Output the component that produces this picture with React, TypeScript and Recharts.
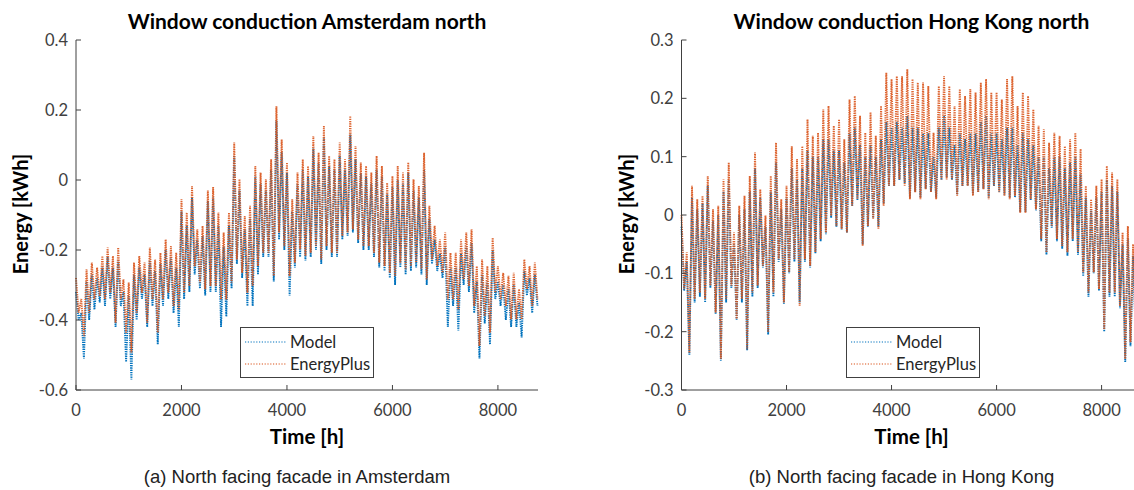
import { LineChart, Line, XAxis, YAxis } from 'recharts';

// hourly results sampled every STEP hours: upper and lower envelope of the daily swing
const STEP = 100;

const amsEplusHi = [
  -0.28, -0.34, -0.255, -0.236, -0.25, -0.217, -0.193, -0.217, -0.193, -0.284,
  -0.293, -0.236, -0.217, -0.236, -0.193, -0.227, -0.208, -0.17, -0.189, -0.208,
  -0.055, -0.093, -0.017, -0.141, -0.131, -0.03, -0.02, -0.093, -0.15, -0.093,
  0.107, 0.002, -0.103, -0.074, 0.04, 0.021, 0.002, 0.059, 0.211, 0.116,
  0.05, -0.055, 0.021, 0.059, 0.04, 0.126, 0.078, 0.154, 0.069, 0.059,
  0.107, 0.059, 0.183, 0.097, 0.05, 0.04, 0.021, 0.069, 0.04, -0.008,
  0.011, 0.04, 0.021, 0.05, 0.002, -0.017, 0.078, -0.074, -0.131, -0.17,
  -0.15, -0.208, -0.208, -0.17, -0.15, -0.141, -0.246, -0.227, -0.246, -0.165,
  -0.246, -0.265, -0.274, -0.265, -0.312, -0.227, -0.246, -0.236,
];
const amsEplusLo = [
  -0.379, -0.446, -0.379, -0.341, -0.331, -0.341, -0.322, -0.408, -0.341, -0.436,
  -0.493, -0.379, -0.322, -0.408, -0.341, -0.436, -0.341, -0.322, -0.36, -0.37,
  -0.322, -0.303, -0.246, -0.293, -0.312, -0.303, -0.303, -0.341, -0.341, -0.293,
  -0.227, -0.265, -0.322, -0.303, -0.246, -0.208, -0.208, -0.274, -0.15, -0.189,
  -0.274, -0.236, -0.198, -0.217, -0.208, -0.189, -0.227, -0.189, -0.208, -0.208,
  -0.16, -0.15, -0.141, -0.17, -0.189, -0.189, -0.208, -0.236, -0.246, -0.265,
  -0.274, -0.236, -0.255, -0.246, -0.236, -0.255, -0.284, -0.227, -0.246, -0.265,
  -0.341, -0.341, -0.37, -0.284, -0.303, -0.36, -0.474, -0.389, -0.436, -0.322,
  -0.341, -0.36, -0.398, -0.398, -0.398, -0.312, -0.36, -0.341,
];
const amsModelHi = [
  -0.32, -0.38, -0.29, -0.27, -0.28, -0.25, -0.22, -0.25, -0.23, -0.32,
  -0.33, -0.27, -0.25, -0.27, -0.23, -0.26, -0.24, -0.2, -0.22, -0.25,
  -0.09, -0.13, -0.05, -0.17, -0.16, -0.06, -0.05, -0.13, -0.19, -0.13,
  0.07, -0.03, -0.14, -0.11, 0.01, -0.01, -0.03, 0.03, 0.17, 0.08,
  0.02, -0.09, -0.01, 0.03, 0.01, 0.09, 0.05, 0.12, 0.04, 0.03,
  0.07, 0.03, 0.13, 0.06, 0.02, 0.01, -0.01, 0.03, 0.01, -0.04,
  -0.02, 0.0, -0.01, 0.02, -0.03, -0.05, 0.03, -0.11, -0.17, -0.21,
  -0.19, -0.25, -0.25, -0.21, -0.19, -0.18, -0.29, -0.27, -0.29, -0.2,
  -0.29, -0.3, -0.31, -0.3, -0.35, -0.26, -0.28, -0.27,
];
const amsModelLo = [
  -0.4, -0.51, -0.4, -0.37, -0.35, -0.36, -0.34, -0.42, -0.36, -0.52,
  -0.57, -0.4, -0.34, -0.42, -0.36, -0.47, -0.36, -0.34, -0.38, -0.42,
  -0.34, -0.32, -0.27, -0.31, -0.33, -0.32, -0.32, -0.42, -0.39, -0.31,
  -0.24, -0.28, -0.36, -0.36, -0.27, -0.22, -0.22, -0.29, -0.17, -0.2,
  -0.33, -0.25, -0.22, -0.23, -0.22, -0.2, -0.24, -0.2, -0.22, -0.22,
  -0.17, -0.16, -0.15, -0.18, -0.2, -0.2, -0.22, -0.25, -0.26, -0.28,
  -0.3, -0.25, -0.27, -0.26, -0.25, -0.27, -0.3, -0.24, -0.26, -0.28,
  -0.42, -0.36, -0.43, -0.3, -0.32, -0.38, -0.51, -0.41, -0.47, -0.34,
  -0.36, -0.4, -0.42, -0.42, -0.45, -0.33, -0.38, -0.36,
];

const hkEplusHi = [
  0.0, -0.064, 0.05, 0.027, 0.033, 0.067, 0.01, 0.016, 0.061, 0.09,
  -0.03, 0.016, 0.033, 0.067, 0.107, 0.044, -0.001, 0.067, 0.124, 0.027,
  0.05, 0.118, 0.096, 0.118, 0.164, 0.136, 0.141, 0.181, 0.187, 0.153,
  0.164, 0.13, 0.198, 0.204, 0.17, 0.141, 0.176, 0.136, 0.187, 0.244,
  0.233, 0.238, 0.238, 0.25, 0.233, 0.227, 0.227, 0.221, 0.141, 0.221,
  0.238, 0.221, 0.187, 0.216, 0.204, 0.216, 0.21, 0.227, 0.233, 0.21,
  0.21, 0.198, 0.233, 0.238, 0.187, 0.21, 0.204, 0.181, 0.153, 0.147,
  0.124, 0.141, 0.136, 0.118, 0.13, 0.141, 0.113, 0.05, 0.027, 0.05,
  0.061, 0.084, 0.073, 0.061, -0.03, -0.019, -0.05, -0.02,
];
const hkEplusLo = [
  -0.127, -0.236, -0.144, -0.133, -0.144, -0.121, -0.167, -0.247, -0.144, -0.121,
  -0.178, -0.144, -0.23, -0.133, -0.121, -0.087, -0.201, -0.133, -0.076, -0.15,
  -0.098, -0.076, -0.156, -0.076, -0.087, -0.064, -0.041, -0.03, -0.001, -0.019,
  -0.024, -0.03, 0.016, 0.027, -0.053, -0.019, -0.007, -0.024, 0.016, 0.05,
  0.05, 0.061, 0.05, 0.027, 0.039, 0.027, 0.044, 0.039, 0.027, 0.061,
  0.061, 0.061, 0.033, 0.05, 0.05, 0.033, 0.039, 0.044, 0.027, 0.05,
  0.039, 0.033, 0.027, 0.033, 0.004, 0.004, 0.027, 0.01, -0.041, -0.064,
  -0.019, -0.041, -0.053, -0.064, -0.041, -0.064, -0.098, -0.133, -0.098, -0.127,
  -0.196, -0.133, -0.133, -0.156, -0.247, -0.218, -0.2, -0.18,
];
const hkModelHi = [
  -0.02, -0.08, 0.03, 0.01, 0.02, 0.05, -0.01, 0.0, 0.04, 0.06,
  -0.05, 0.0, 0.01, 0.04, 0.08, 0.03, -0.02, 0.04, 0.09, 0.01,
  0.03, 0.08, 0.06, 0.08, 0.11, 0.1, 0.1, 0.13, 0.13, 0.11,
  0.11, 0.09, 0.14, 0.15, 0.12, 0.1, 0.12, 0.1, 0.13, 0.16,
  0.15, 0.16, 0.15, 0.17, 0.15, 0.15, 0.14, 0.14, 0.1, 0.15,
  0.17, 0.15, 0.12, 0.14, 0.13, 0.14, 0.14, 0.16, 0.17, 0.14,
  0.14, 0.13, 0.15, 0.15, 0.12, 0.14, 0.13, 0.12, 0.1, 0.1,
  0.08, 0.1, 0.1, 0.08, 0.09, 0.1, 0.07, 0.03, 0.01, 0.03,
  0.04, 0.06, 0.05, 0.04, -0.05, -0.04, -0.07, -0.04,
];
const hkModelLo = [
  -0.13, -0.24, -0.15, -0.14, -0.15, -0.125, -0.17, -0.25, -0.15, -0.125,
  -0.18, -0.15, -0.232, -0.14, -0.125, -0.09, -0.205, -0.14, -0.08, -0.152,
  -0.1, -0.08, -0.15, -0.08, -0.09, -0.066, -0.045, -0.033, -0.005, -0.02,
  -0.025, -0.03, 0.015, 0.025, -0.05, -0.02, -0.005, -0.02, 0.02, 0.05,
  0.05, 0.06, 0.055, 0.03, 0.04, 0.03, 0.045, 0.04, 0.03, 0.06,
  0.065, 0.06, 0.035, 0.05, 0.05, 0.035, 0.04, 0.045, 0.03, 0.05,
  0.04, 0.035, 0.03, 0.03, 0.005, 0.005, 0.025, 0.008, -0.045, -0.068,
  -0.022, -0.045, -0.058, -0.07, -0.045, -0.068, -0.105, -0.14, -0.1, -0.13,
  -0.2, -0.14, -0.14, -0.16, -0.252, -0.225, -0.21, -0.19,
];

const xTicks = [0, 2000, 4000, 6000, 8000];
const amsYTicks = [-0.6, -0.4, -0.2, 0, 0.2, 0.4];
const hkYTicks = [-0.3, -0.2, -0.1, 0, 0.1, 0.2, 0.3];

const MODEL_COLOR = '#0072BD';
const EPLUS_COLOR = '#D95319';
const AXIS_COLOR = '#404040';
const FONT = 'Lato, "Open Sans", sans-serif';

interface Row {
  t: number;
  model: number;
  eplus: number;
}

// zig-zag between the upper and lower value of each sample window
function buildRows(modelHi: number[], modelLo: number[], eplusHi: number[], eplusLo: number[]): Row[] {
  return modelHi.flatMap((_, k) => [
    { t: k * STEP, model: modelHi[k], eplus: eplusHi[k] },
    { t: k * STEP + STEP / 2, model: modelLo[k], eplus: eplusLo[k] },
  ]);
}

const amsRows = buildRows(amsModelHi, amsModelLo, amsEplusHi, amsEplusLo);
const hkRows = buildRows(hkModelHi, hkModelLo, hkEplusHi, hkEplusLo);

function LegendBox({ left, top }: { left: number; top: number }) {
  const entries = [
    { name: 'Model', color: MODEL_COLOR },
    { name: 'EnergyPlus', color: EPLUS_COLOR },
  ];
  return (
    <div
      style={{
        position: 'absolute',
        left,
        top,
        width: 134,
        height: 51,
        boxSizing: 'border-box',
        border: `1px solid ${AXIS_COLOR}`,
        background: '#fff',
        padding: '3px 0 0 2px',
      }}
    >
      {entries.map((e) => (
        <div key={e.name} style={{ display: 'flex', alignItems: 'center', height: 22 }}>
          <svg width={46} height={6}>
            <line x1={2} y1={3} x2={44} y2={3} stroke={e.color} strokeWidth={1.2} strokeDasharray="1.2 1.6" />
          </svg>
          <span style={{ fontFamily: FONT, fontSize: 16.5, color: '#262626', marginLeft: 1 }}>{e.name}</span>
        </div>
      ))}
    </div>
  );
}

interface PanelProps {
  left: number;
  width: number;
  plotLeft: number;
  plotWidth: number;
  title: string;
  caption: string;
  captionX: number;
  rows: Row[];
  yDomain: [number, number];
  yTicks: number[];
  legendLeft: number;
}

const labelStyle = {
  position: 'absolute' as const,
  textAlign: 'center' as const,
  fontFamily: FONT,
  fontWeight: 700,
  color: '#000',
  whiteSpace: 'nowrap' as const,
};

function Panel(p: PanelProps) {
  const plotTop = 40;
  const plotBottom = 390;
  const yAxisWidth = 40;
  const xAxisHeight = 30;
  const height = 490;
  const plotCenter = p.plotLeft + p.plotWidth / 2;
  return (
    <div style={{ position: 'absolute', left: p.left, top: 0, width: p.width, height }}>
      <LineChart
        width={p.width}
        height={height}
        data={p.rows}
        margin={{
          top: plotTop,
          bottom: height - plotBottom - xAxisHeight,
          left: p.plotLeft - yAxisWidth,
          right: p.width - p.plotLeft - p.plotWidth,
        }}
      >
        <XAxis
          dataKey="t"
          type="number"
          domain={[0, 8760]}
          ticks={xTicks}
          height={xAxisHeight}
          tickSize={-5}
          tickMargin={19}
          stroke={AXIS_COLOR}
          tick={{ fontSize: 16.5, fill: AXIS_COLOR, fontFamily: FONT }}
        />
        <XAxis
          xAxisId="top"
          orientation="top"
          type="number"
          domain={[0, 8760]}
          ticks={xTicks}
          height={0}
          tickSize={-5}
          tick={false}
          stroke={AXIS_COLOR}
        />
        <YAxis
          type="number"
          domain={p.yDomain}
          ticks={p.yTicks}
          width={yAxisWidth}
          tickSize={-5}
          tickMargin={13}
          stroke={AXIS_COLOR}
          tick={{ fontSize: 16.5, fill: AXIS_COLOR, fontFamily: FONT }}
        />
        <YAxis
          yAxisId="right"
          orientation="right"
          type="number"
          domain={p.yDomain}
          ticks={p.yTicks}
          width={0}
          tickSize={-5}
          tick={false}
          stroke={AXIS_COLOR}
        />
        <Line
          dataKey="model"
          type="linear"
          stroke={MODEL_COLOR}
          strokeWidth={1.9}
          strokeDasharray="1.3 1"
          dot={false}
          isAnimationActive={false}
        />
        <Line
          dataKey="eplus"
          type="linear"
          stroke={EPLUS_COLOR}
          strokeOpacity={0.9}
          strokeWidth={1.9}
          strokeDasharray="1.3 1"
          dot={false}
          isAnimationActive={false}
        />
      </LineChart>

      <div style={{ ...labelStyle, left: plotCenter - 250, width: 500, top: 8, fontSize: 21 }}>{p.title}</div>
      <div
        style={{
          ...labelStyle,
          left: p.plotLeft - 56 - 100,
          top: 215 - 13,
          width: 200,
          fontSize: 20,
          transform: 'rotate(-90deg)',
        }}
      >
        Energy [kWh]
      </div>
      <div style={{ ...labelStyle, left: plotCenter - 100, width: 200, top: 424, fontSize: 20.5 }}>Time [h]</div>
      <LegendBox left={p.legendLeft} top={327} />
      <div
        style={{
          position: 'absolute',
          left: p.captionX - 250,
          width: 500,
          top: 466,
          textAlign: 'center',
          fontFamily: '"Liberation Sans", Arial, sans-serif',
          fontSize: 18.5,
          color: '#222',
        }}
      >
        {p.caption}
      </div>
    </div>
  );
}

export default function App() {
  return (
    <div
      style={{
        position: 'fixed',
        left: 0,
        top: 0,
        width: 1134,
        height: 490,
        overflow: 'hidden',
        background: '#fff',
      }}
    >
      <Panel
        left={0}
        width={567}
        plotLeft={76}
        plotWidth={462}
        title="Window conduction Amsterdam north"
        caption="(a) North facing facade in Amsterdam"
        captionX={297}
        rows={amsRows}
        yDomain={[-0.6, 0.4]}
        yTicks={amsYTicks}
        legendLeft={240}
      />
      <Panel
        left={567}
        width={620}
        plotLeft={114.5}
        plotWidth={460}
        title="Window conduction Hong Kong north"
        caption="(b) North facing facade in Hong Kong"
        captionX={334.5}
        rows={hkRows}
        yDomain={[-0.3, 0.3]}
        yTicks={hkYTicks}
        legendLeft={279}
      />
    </div>
  );
}
